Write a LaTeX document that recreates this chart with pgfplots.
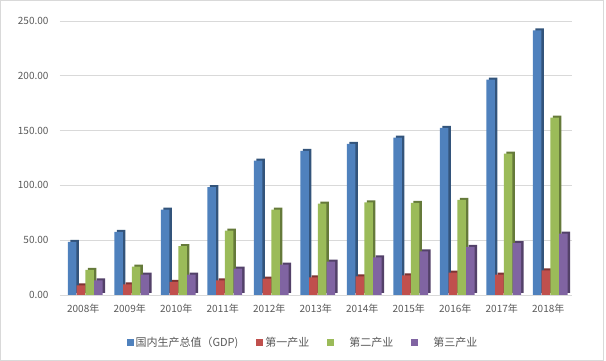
\documentclass[border=0pt]{standalone}
\usepackage{pgfplots}
\pgfplotsset{compat=1.18}
\usepackage{fontspec}
\setmainfont{Noto Sans CJK SC}
\definecolor{cA}{HTML}{4F81BD}
\definecolor{cB}{HTML}{C0504D}
\definecolor{cC}{HTML}{9BBB59}
\definecolor{cD}{HTML}{8064A2}
\definecolor{txt}{HTML}{595959}
\definecolor{grid}{HTML}{D9D9D9}
\pgfplotstableread{
x gdp p1 p2 p3
0 48.4 8.8 23.0 13.4
1 57.5 9.7 26.0 18.5
2 77.8 11.9 44.7 18.5
3 98.5 13.4 58.7 24.0
4 122.5 14.9 77.8 27.7
5 131.4 16.1 83.3 30.4
6 137.8 17.0 84.6 34.4
7 143.5 18.0 84.0 39.9
8 152.4 20.3 86.7 43.8
9 196.4 18.5 128.9 47.4
10 241.5 22.5 161.8 55.9
}\data
\begin{document}
\begin{tikzpicture}
\useasboundingbox (0,0) rectangle (606pt,361pt);
\draw[color=grid] (0.5pt,0.5pt) rectangle (603pt,360.5pt);
\begin{axis}[
  at={(60pt,66pt)}, anchor=south west,
  scale only axis, width=511.5pt, height=274pt,
  xmin=-0.5, xmax=10.5, ymin=0, ymax=250,
  ybar, bar width=8.5pt,
  axis x line*=bottom, axis y line*=left,
  x axis line style={draw=none}, y axis line style={draw=none},
  major tick length=0pt,
  xtick=data,
  xticklabels={2008年,2009年,2010年,2011年,2012年,2013年,2014年,2015年,2016年,2017年,2018年},
  ytick={0,50,100,150,200,250},
  ymajorgrids, grid style={draw=grid, line width=0.8pt},
  /pgf/number format/.cd, fixed, fixed zerofill, precision=2, assume math mode=true, 1000 sep={},
  /pgfplots/.cd,
  yticklabel style={font=\fontsize{10}{12}\selectfont, text=txt, xshift=-8pt},
  xticklabel style={font=\fontsize{10}{12}\selectfont, text=txt, yshift=-6pt},
  legend style={at={(0.475,-0.175)}, anchor=center, draw=none, legend columns=4,
    font=\fontsize{11}{13}\selectfont, text=txt,
    /tikz/every even column/.append style={column sep=16pt}},
  legend image code/.code={\fill[#1] (0pt,-3.5pt) rectangle (7pt,3.5pt);},
]
\addplot[fill=cA!65!black, draw=none, bar shift=-8.6pt, yshift=2pt, forget plot] table[x=x,y=gdp]{\data};
\addplot[fill=cA, draw=none, bar shift=-11.1pt] table[x=x,y=gdp]{\data};
\addplot[fill=cB!65!black, draw=none, bar shift=0.1pt, yshift=2pt, forget plot] table[x=x,y=p1]{\data};
\addplot[fill=cB, draw=none, bar shift=-2.4pt] table[x=x,y=p1]{\data};
\addplot[fill=cC!65!black, draw=none, bar shift=8.9pt, yshift=2pt, forget plot] table[x=x,y=p2]{\data};
\addplot[fill=cC, draw=none, bar shift=6.4pt] table[x=x,y=p2]{\data};
\addplot[fill=cD!65!black, draw=none, bar shift=17.6pt, yshift=2pt, forget plot] table[x=x,y=p3]{\data};
\addplot[fill=cD, draw=none, bar shift=15.1pt] table[x=x,y=p3]{\data};
\legend{国内生产总值（GDP),第一产业,\hspace{13pt}第二产业,\hspace{13pt}第三产业}
\end{axis}
\end{tikzpicture}
\end{document}
